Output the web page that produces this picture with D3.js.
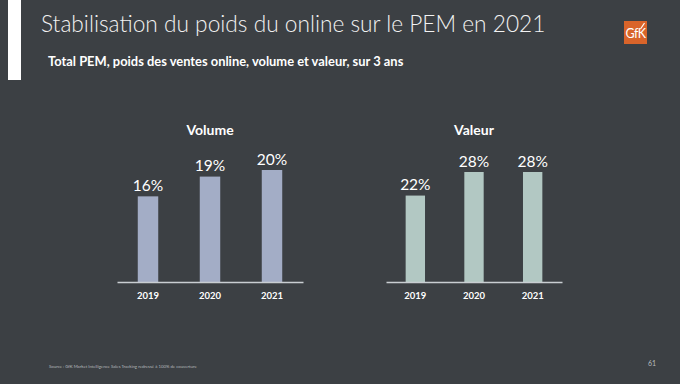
<!DOCTYPE html>
<html>
<head>
<meta charset="utf-8">
<script src="https://cdn.jsdelivr.net/npm/d3@7"></script>
<style>
  body { margin: 0; background: #3c4044; }
  svg { display: block; font-family: Lato, "Open Sans", sans-serif; }
</style>
</head>
<body>
<div class="chart"></div>
<script>
// data
const years = ['2019', '2020', '2021'];
const volume = [16, 19, 20];
const valeur = [22, 28, 28];
const panelTitles = ['Volume', 'Valeur'];

const width = 680;
const height = 384;

const svg = d3.select('.chart')
    .append('svg')
    .attr('width', width)
    .attr('height', height)
    .style('background', '#3c4044');

// white band on the left
svg.append('rect')
    .attr('x', 8).attr('y', 0)
    .attr('width', 13).attr('height', 80)
    .attr('fill', '#ffffff');

svg.append('text')
    .attr('x', 41).attr('y', 32)
    .attr('fill', '#f2f2f2')
    .attr('font-size', 22.7)
    .attr('font-weight', 300)
    .text('Stabilisation du poids du online sur le PEM en 2021');

svg.append('text')
    .attr('x', 48).attr('y', 66)
    .attr('fill', '#ffffff')
    .attr('font-size', 12.9)
    .attr('font-weight', 'bold')
    .text('Total PEM, poids des ventes online, volume et valeur, sur 3 ans');

// GfK logo
const logo = svg.append('g').attr('transform', 'translate(624, 21)');
logo.append('rect')
    .attr('width', 23).attr('height', 23)
    .attr('fill', '#d9642a');
logo.append('text')
    .attr('x', 11.5).attr('y', 16.5)
    .attr('text-anchor', 'middle')
    .attr('fill', '#ffffff')
    .attr('font-size', 12.5)
    .attr('letter-spacing', -0.6)
    .text('GfK');
logo.append('line')
    .attr('x1', 16.5).attr('y1', 8)
    .attr('x2', 20.5).attr('y2', 2)
    .attr('stroke', '#ffffff')
    .attr('stroke-width', 1.2);

const baseline = 282;

const drawPanel = (values, title, x0, x1, yDomain, topY, color) => {
    const xScale = d3.scaleBand().domain(years).range([x0, x1])
        .paddingInner(0.67).paddingOuter(0.335);
    const yScale = d3.scaleLinear().domain(yDomain).range([baseline, topY]);
    const g = svg.append('g');

    g.append('text')
        .attr('x', (x0 + x1) / 2)
        .attr('y', 135)
        .attr('text-anchor', 'middle')
        .attr('fill', '#ffffff')
        .attr('font-size', 14)
        .attr('font-weight', 'bold')
        .text(title);

    g.selectAll('.bar')
        .data(values).enter()
        .append('rect')
        .attr('class', 'bar')
        .attr('x', (d, i) => xScale(years[i]))
        .attr('y', d => yScale(d))
        .attr('width', xScale.bandwidth())
        .attr('height', d => baseline - yScale(d))
        .attr('fill', color);

    g.selectAll('.label')
        .data(values).enter()
        .append('text')
        .attr('class', 'label')
        .attr('x', (d, i) => xScale(years[i]) + xScale.bandwidth() / 2)
        .attr('y', d => yScale(d) - 5.5)
        .attr('text-anchor', 'middle')
        .attr('fill', '#ffffff')
        .attr('font-size', 15.5)
        .text(d => `${d}%`);

    const axis = g.append('g')
        .attr('transform', `translate(0, ${baseline})`)
        .call(d3.axisBottom(xScale).tickSize(0).tickPadding(10));
    axis.select('.domain')
        .attr('stroke', '#c9ced2')
        .attr('stroke-width', 1.5);
    axis.selectAll('text')
        .attr('fill', '#ffffff')
        .attr('font-size', 9.5)
        .attr('font-weight', 'bold')
        .attr('font-family', 'Lato, sans-serif');
};

drawPanel(volume, panelTitles[0], 117, 303, [3, 20], 170, '#a3adc6');
drawPanel(valeur, panelTitles[1], 386, 562, [0, 28], 172, '#b2c8c3');

svg.append('text')
    .attr('x', 49).attr('y', 368)
    .attr('fill', '#b5b9bc')
    .attr('font-size', 4.3)
    .text('Source : GfK Market Intelligence Sales Tracking redressé à 100% de couverture');

svg.append('text')
    .attr('x', 648).attr('y', 366)
    .attr('fill', '#b5b9bc')
    .attr('font-size', 7)
    .text('61');
</script>
</body>
</html>
